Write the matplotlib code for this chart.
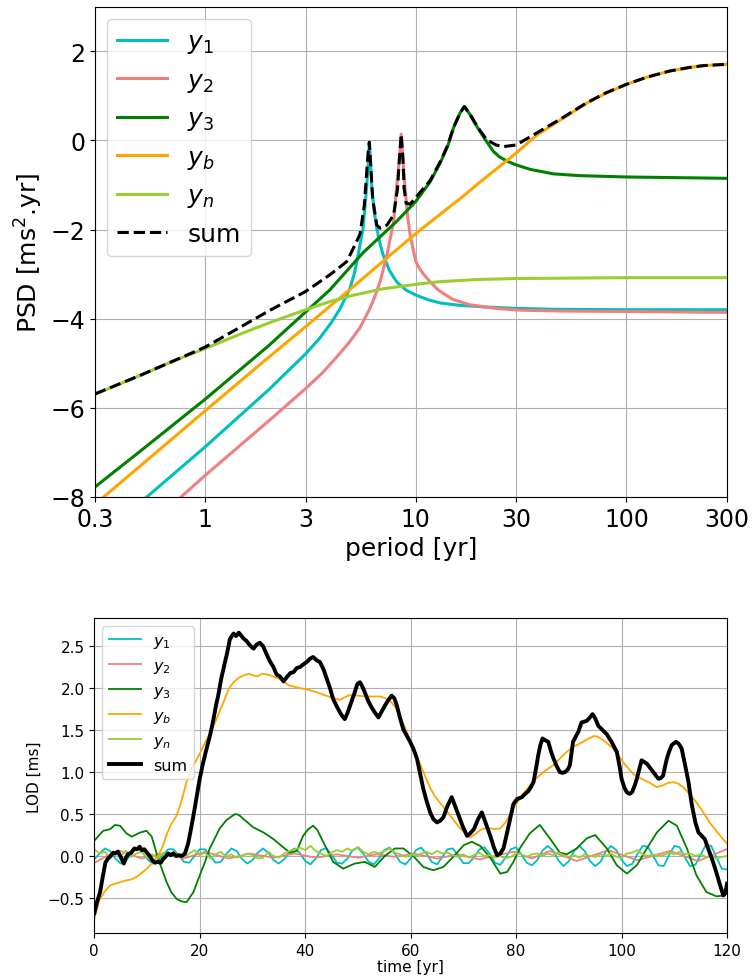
import numpy as np
import matplotlib
matplotlib.use("Agg")
import matplotlib.pyplot as plt
from matplotlib.ticker import NullLocator

# ---------------- top panel: PSD vs period (log10 values) ----------------
period_y1 = [0.3, 0.53, 1, 2, 3, 3.5, 4.0, 4.38, 4.87, 5.1, 5.33, 5.62, 5.84, 5.95, 6.02, 6.1,
             6.19, 6.35, 6.53, 6.75, 7.0, 7.5, 8.1, 9.0, 10, 11.5, 13.1, 16, 21.7, 30, 45, 100, 300]
psd_y1 = [-9.0, -8.0, -6.88, -5.6, -4.79, -4.44, -4.07, -3.77, -3.32, -3.0, -2.57, -1.97, -1.07,
          -0.5, -0.05, -0.5, -1.07, -1.6, -1.97, -2.3, -2.57, -2.92, -3.17, -3.36, -3.47, -3.58,
          -3.65, -3.70, -3.74, -3.77, -3.79, -3.80, -3.80]

period_y2 = [0.3, 0.77, 1, 2, 3, 3.6, 4.2, 4.8, 5.44, 6.06, 6.4, 6.77, 7.3, 7.85, 8.1, 8.35, 8.53,
             8.7, 8.9, 9.15, 9.4, 10, 10.5, 11, 11.7, 12.6, 13.1, 15, 18.1, 24, 31, 50, 100, 300]
psd_y2 = [-9.64, -8.0, -7.52, -6.3, -5.57, -5.22, -4.87, -4.55, -4.2, -3.77, -3.5, -3.17, -2.57,
          -1.82, -1.07, -0.45, 0.14, -0.45, -1.07, -1.7, -2.12, -2.72, -2.9, -3.03, -3.17,
          -3.33, -3.39, -3.57, -3.69, -3.77, -3.81, -3.83, -3.84, -3.86]

period_y3 = [0.3, 0.5, 1, 2, 3, 3.9, 5.62, 8.1, 10, 11.7, 13.1, 14.2, 15.1, 16.2, 17.0, 18.1,
             19.0, 20.2, 21.5, 23.4, 25, 27, 30, 35, 45, 60, 100, 300]
psd_y3 = [-7.78, -6.95, -5.81, -4.61, -3.85, -3.36, -2.52, -1.82, -1.37, -0.93, -0.49, -0.12,
          0.28, 0.61, 0.76, 0.58, 0.40, 0.20, 0.0, -0.25, -0.37, -0.46, -0.55, -0.65, -0.75,
          -0.79, -0.82, -0.85]

period_yb = [0.3, 0.5, 1, 2, 3, 5, 7, 10, 16.8, 20, 27.1, 30, 37.6, 48.6, 65, 80, 100, 125,
             161, 200, 232, 300]
psd_yb = [-8.17, -7.28, -6.07, -4.87, -4.18, -3.3, -2.71, -2.09, -1.25, -0.95, -0.45, -0.28,
          0.12, 0.46, 0.84, 1.06, 1.26, 1.42, 1.56, 1.64, 1.68, 1.71]

period_yn = [0.3, 0.5, 0.7, 1, 1.5, 2, 3, 3.9, 5, 7, 10, 13, 20, 30, 100, 300]
psd_yn = [-5.70, -5.26, -4.96, -4.67, -4.33, -4.10, -3.80, -3.62, -3.48, -3.33, -3.23, -3.17,
          -3.12, -3.10, -3.08, -3.08]

period_sum = [0.3, 0.5, 1, 2, 3, 3.9, 4.7, 5.2, 5.44, 5.7, 5.93, 6.02, 6.1, 6.24, 6.53, 6.77,
              7.3, 7.85, 8.2, 8.35, 8.53, 8.7, 8.8, 9.0, 9.4, 10, 11.7, 13.1, 14.2, 15.1, 16.2,
              17.0, 18.1, 19.0, 20.2, 21.7, 24, 26, 30, 37.6, 48.6, 65, 80, 100, 125, 161, 200,
              232, 300]
psd_sum = [-5.69, -5.26, -4.64, -3.83, -3.39, -3.02, -2.72, -2.3, -2.1, -1.45, -0.32, -0.04,
           -0.5, -1.30, -1.90, -1.97, -1.90, -1.67, -1.07, -0.45, 0.14, -0.45, -1.07, -1.41,
           -1.43, -1.28, -0.90, -0.47, -0.10, 0.29, 0.61, 0.76, 0.59, 0.42, 0.22, 0.02, -0.1,
           -0.14, -0.10, 0.17, 0.48, 0.85, 1.07, 1.26, 1.42, 1.56, 1.64, 1.68, 1.71]

period_ticks = [0.3, 1, 3, 10, 30, 100, 300]
period_ticklabels = ["0.3", "1", "3", "10", "30", "100", "300"]
psd_ticks = [-8, -6, -4, -2, 0, 2]

# ---------------- bottom panel: LOD time series ----------------
time_y1 = list(range(0, 121))
lod_y1 = [-0.04, 0.03, 0.09, 0.06, -0.03, -0.09, -0.06, 0.03, 0.09, 0.06,
          -0.03, -0.09, -0.06, 0.01, 0.08, 0.08, 0.01, -0.07, -0.08, 0.0,
          0.08, 0.08, 0.0, -0.08, -0.07, 0.02, 0.09, 0.06, -0.035, -0.09,
          -0.05, 0.04, 0.09, 0.04, -0.05, -0.09, -0.04, 0.05, 0.09, 0.035,
          -0.06, -0.10, -0.03, 0.07, 0.095, 0.015, -0.08, -0.09, -0.03, 0.07,
          0.10, 0.03, -0.065, -0.10, -0.03, 0.07, 0.10, 0.03, -0.07, -0.10,
          -0.03, 0.07, 0.10, 0.03, -0.07, -0.10, -0.015, 0.08, 0.09, 0.005,
          -0.085, -0.085, -0.02, 0.075, 0.105, 0.025, -0.08, -0.105, -0.02, 0.08,
          0.105, 0.02, -0.08, -0.11, -0.05, 0.065, 0.12, 0.065, -0.05, -0.12,
          -0.06, 0.06, 0.12, 0.06, -0.06, -0.12, -0.07, 0.05, 0.12, 0.07,
          -0.045, -0.12, -0.095, 0.02, 0.12, 0.11, 0.0, -0.11, -0.12, 0.01,
          0.12, 0.105, -0.015, -0.12, -0.105, 0.015, 0.135, 0.12, -0.015, -0.15,
          -0.16]

time_y2 = [0, 4.5, 9, 13, 17, 21, 25.5, 29.5, 34, 38, 42, 46, 50, 53.5, 57, 60.5, 65, 69, 73,
           79.5, 83, 86.4, 91.5, 97.5, 103, 109.2, 114.5, 119.9, 120]
lod_y2 = [-0.08, 0.07, -0.03, 0.03, -0.03, 0.05, -0.03, 0.03, -0.02, 0.03, -0.02, 0.02, -0.02,
          0.02, -0.01, 0.03, -0.03, 0.02, -0.04, 0.05, -0.03, 0.06, -0.06, 0.07, -0.05, 0.06,
          -0.06, 0.08, 0.08]

time_y3 = [0, 0.8, 1.7, 3.0, 3.9, 4.9, 6.1, 7.1, 8.7, 9.9, 10.9, 12.1, 13.7, 14.6, 15.6, 16.5,
           17.5, 18.8, 20.0, 21.0, 21.9, 23.8, 25.1, 26.7, 27.4, 28.3, 30.2, 32.1, 34.0, 35.9,
           37.1, 38.4, 39.6, 40.6, 41.5, 42.3, 43.4, 45.3, 47.2, 49.4, 51.3, 53.2, 55.1, 57.0,
           58.6, 60.5, 62.4, 64.3, 66.2, 68.1, 70.1, 71.6, 73.2, 75.1, 77.0, 78.3, 79.5, 80.7,
           82.6, 84.5, 86.4, 88.3, 89.6, 91.5, 93.4, 95.0, 97.2, 99.1, 101.0, 102.9, 104.8,
           106.7, 108.9, 110.5, 112.4, 114.2, 116.1, 118.0, 119.6, 120]
lod_y3 = [0.18, 0.24, 0.30, 0.32, 0.37, 0.36, 0.27, 0.23, 0.28, 0.30, 0.23, -0.03, -0.31, -0.43,
          -0.51, -0.54, -0.55, -0.43, -0.23, -0.07, 0.09, 0.33, 0.43, 0.50, 0.49, 0.44, 0.34,
          0.28, 0.20, 0.10, 0.04, 0.06, 0.24, 0.32, 0.36, 0.31, 0.17, -0.07, -0.15, -0.09,
          -0.07, -0.13, 0.0, 0.09, 0.09, 0.0, -0.13, -0.17, -0.13, -0.01, 0.13, 0.17, 0.12,
          -0.02, -0.21, -0.19, -0.07, 0.09, 0.27, 0.37, 0.21, 0.04, 0.02, 0.09, 0.21, 0.25,
          0.09, -0.11, -0.21, -0.11, 0.09, 0.28, 0.42, 0.36, 0.09, -0.23, -0.43, -0.48, -0.47,
          -0.42]

time_yb = [0, 1, 2, 3, 4, 5, 6, 7, 8, 9, 10, 11, 12, 13, 13.7, 14.5, 15.6, 16.5, 17.5, 18.1,
           19, 20, 21, 22.3, 23.5, 24.5, 25.5, 26.4, 27.3, 28.3, 29.3, 30.2, 31.0, 31.8, 33.0,
           33.9, 35.0, 36.0, 37.0, 38.4, 39.0, 40.6, 42.2, 43.5, 45.3, 46.6, 47.5, 48.5, 50.0,
           51.6, 53, 54.2, 55.2, 56.1, 57.0, 58.0, 59.0, 59.9, 60.9, 61.9, 62.9, 63.8, 64.6,
           65.5, 66.5, 67.5, 68.5, 69.4, 70.4, 71.3, 72.2, 73.2, 74.2, 75.1, 76.0, 77.0, 78.0,
           78.9, 79.8, 80.7, 81.6, 82.6, 83.9, 85.2, 86.1, 87.0, 88.0, 88.9, 89.8, 90.8, 91.8,
           92.7, 93.8, 94.9, 95.5, 96.5, 97.5, 98.4, 99.4, 100.3, 101.2, 102.2, 103.1, 104.1,
           105.4, 106.7, 107.8, 108.8, 109.8, 110.8, 111.7, 113.0, 114.2, 115.5, 116.7, 117.7,
           118.6, 119.4, 120]
lod_yb = [-0.75, -0.52, -0.42, -0.35, -0.33, -0.31, -0.29, -0.28, -0.25, -0.20, -0.15, -0.08,
          -0.01, 0.12, 0.25, 0.37, 0.48, 0.65, 0.88, 1.0, 1.10, 1.22, 1.35, 1.50, 1.68, 1.83,
          1.99, 2.07, 2.12, 2.15, 2.17, 2.15, 2.14, 2.17, 2.16, 2.14, 2.11, 2.07, 2.03, 2.01,
          2.00, 1.98, 1.95, 1.92, 1.88, 1.86, 1.89, 1.92, 1.91, 1.90, 1.90, 1.90, 1.88, 1.85,
          1.78, 1.67, 1.52, 1.36, 1.22, 1.08, 0.93, 0.80, 0.71, 0.64, 0.56, 0.48, 0.40, 0.33,
          0.27, 0.22, 0.26, 0.31, 0.33, 0.33, 0.32, 0.33, 0.40, 0.50, 0.60, 0.68, 0.76, 0.84,
          0.93, 1.0, 1.04, 1.08, 1.14, 1.20, 1.25, 1.30, 1.33, 1.36, 1.40, 1.43, 1.42, 1.38,
          1.33, 1.28, 1.20, 1.12, 1.05, 0.98, 0.94, 0.91, 0.87, 0.82, 0.84, 0.87, 0.88, 0.86,
          0.82, 0.73, 0.64, 0.52, 0.40, 0.32, 0.25, 0.19, 0.15]

time_yn = list(range(0, 121))
lod_yn = [0.08, 0.03, 0.05, -0.02, 0.04, 0.0, 0.06, -0.01, 0.03, 0.05,
          -0.02, 0.02, -0.03, 0.04, 0.0, 0.05, 0.01, -0.02, 0.03, 0.07,
          0.01, 0.04, -0.03, 0.02, 0.05, -0.01, 0.02, -0.02, 0.0, 0.03,
          0.01, -0.03, -0.02, 0.05, 0.0, -0.02, 0.03, 0.06, 0.08, 0.10,
          0.07, 0.12, 0.06, 0.03, 0.0, 0.04, 0.07, 0.05, 0.09, 0.06,
          0.11, 0.05, 0.02, 0.05, 0.03, 0.06, 0.09, 0.04, 0.02, -0.01,
          0.02, 0.0, 0.03, 0.05, 0.02, 0.06, 0.03, 0.04, 0.01, -0.01,
          0.02, -0.02, 0.01, 0.04, 0.0, 0.01, -0.02, 0.0, -0.03, -0.01,
          0.03, 0.02, -0.01, 0.02, 0.03, 0.0, 0.03, 0.01, 0.04, 0.01,
          -0.01, 0.01, -0.02, 0.02, 0.0, -0.01, 0.02, 0.0, 0.03, -0.01,
          -0.02, 0.03, 0.04, 0.07, 0.02, 0.0, 0.02, 0.0, 0.01, 0.04,
          0.02, 0.05, 0.02, 0.03, 0.0, 0.02, -0.01, 0.0, -0.03, -0.01,
          0.0]

time_sum = [0, 0.5, 1.1, 1.6, 2.1, 2.6, 3.1, 3.6, 4.0, 4.5, 5.0, 5.6, 6.0, 6.4, 7.0, 7.6, 8.1,
            8.6, 9.0, 9.5, 10.0, 10.5, 11.0, 11.5, 12.0, 12.6, 13.0, 13.5, 14.0, 14.5, 15.0,
            15.5, 16.0, 16.6, 17.2, 17.8, 18.3, 18.8, 19.4, 20.0, 20.6, 21.3, 22.0, 22.6, 23.1,
            23.5, 24.1, 24.8, 25.3, 25.7, 26.1, 26.4, 26.9, 27.4, 27.8, 28.3, 28.9, 29.5, 30.2,
            30.8, 31.4, 32.0, 32.7, 33.3, 33.9, 34.6, 35.2, 35.9, 36.5, 37.2, 37.8, 38.4, 39.0,
            39.6, 40.3, 40.9, 41.5, 42.2, 42.8, 43.5, 44.1, 44.7, 45.3, 46.0, 46.6, 47.0, 47.5,
            48.0, 48.5, 49.0, 49.4, 49.9, 50.4, 50.9, 51.3, 52.0, 52.6, 53.2, 53.9, 54.5, 55.1,
            55.8, 56.4, 56.9, 57.4, 58.0, 58.6, 59.2, 59.9, 60.5, 61.2, 61.8, 62.4, 63.0, 63.7,
            64.3, 65.0, 65.6, 66.2, 67.0, 67.8, 68.4, 69.1, 69.9, 70.7, 71.3, 72.0, 72.8, 73.5,
            74.3, 75.1, 75.8, 76.4, 77.0, 77.6, 78.3, 78.9, 79.5, 80.2, 81.1, 81.7, 82.3, 82.8,
            83.3, 83.8, 84.2, 84.6, 85.0, 85.5, 86.1, 86.6, 87.1, 87.7, 88.3, 88.8, 89.3, 89.8,
            90.2, 90.8, 91.3, 91.8, 92.4, 92.9, 93.4, 94.0, 94.5, 95.0, 95.6, 96.4, 97.2, 98.1,
            99.1, 99.6, 100.0, 100.5, 101.0, 101.5, 102.0, 102.5, 102.9, 103.4, 103.8, 104.3,
            104.8, 105.4, 106.0, 106.5, 107.0, 107.5, 107.9, 108.3, 108.6, 109.0, 109.5, 110.3,
            110.8, 111.4, 112.0, 112.7, 113.3, 114.0, 114.6, 115.2, 115.8, 116.6, 117.4, 118.0,
            118.7, 119.3, 119.7, 120.0]
lod_sum = [-0.68, -0.55, -0.43, -0.25, -0.08, -0.03, 0.0, 0.04, 0.03, 0.05, -0.01, -0.09, -0.02,
           0.02, 0.04, 0.09, 0.08, 0.11, 0.07, 0.08, 0.04, 0.0, -0.05, -0.08, -0.07, -0.08,
           -0.04, -0.01, 0.03, 0.01, 0.03, 0.0, 0.01, 0.0, 0.03, 0.15, 0.31, 0.48, 0.70, 0.92,
           1.10, 1.28, 1.45, 1.63, 1.80, 1.91, 2.12, 2.31, 2.45, 2.58, 2.62, 2.65, 2.62, 2.66,
           2.63, 2.59, 2.56, 2.51, 2.47, 2.52, 2.54, 2.50, 2.40, 2.32, 2.26, 2.16, 2.14, 2.08,
           2.13, 2.18, 2.19, 2.24, 2.25, 2.28, 2.31, 2.35, 2.37, 2.33, 2.31, 2.22, 2.11, 2.00,
           1.87, 1.78, 1.71, 1.67, 1.63, 1.70, 1.79, 1.88, 1.95, 2.05, 2.07, 2.01, 1.95, 1.84,
           1.77, 1.71, 1.65, 1.72, 1.79, 1.86, 1.91, 1.88, 1.79, 1.64, 1.51, 1.44, 1.36, 1.28,
           1.16, 0.98, 0.80, 0.66, 0.52, 0.44, 0.40, 0.42, 0.46, 0.60, 0.70, 0.60, 0.48, 0.35,
           0.24, 0.27, 0.32, 0.44, 0.52, 0.38, 0.24, 0.10, 0.01, 0.03, 0.09, 0.28, 0.45, 0.62,
           0.68, 0.70, 0.74, 0.77, 0.82, 0.88, 1.05, 1.20, 1.32, 1.40, 1.38, 1.36, 1.25, 1.16,
           1.07, 1.00, 0.99, 1.00, 1.03, 1.08, 1.36, 1.42, 1.48, 1.59, 1.60, 1.61, 1.65, 1.69,
           1.64, 1.55, 1.50, 1.45, 1.36, 1.24, 1.08, 0.92, 0.82, 0.76, 0.74, 0.76, 0.84, 0.92,
           1.04, 1.14, 1.12, 1.10, 1.05, 1.00, 0.96, 0.92, 0.93, 0.96, 1.08, 1.16, 1.24, 1.32,
           1.36, 1.34, 1.28, 1.10, 0.88, 0.62, 0.40, 0.28, 0.24, 0.20, 0.06, -0.08, -0.20,
           -0.35, -0.47, -0.44, -0.33]

time_ticks = [0, 20, 40, 60, 80, 100, 120]

labels = ["$y_1$", "$y_2$", "$y_3$", "$y_b$", "$y_n$", "sum"]
colors = ["c", "lightcoral", "green", "orange", "yellowgreen"]

fig = plt.figure(figsize=(7.55, 9.78), dpi=100)

# ---- top ----
ax1 = fig.add_axes([0.1258, 0.491, 0.837, 0.501])
top_x = [period_y1, period_y2, period_y3, period_yb, period_yn]
top_y = [psd_y1, psd_y2, psd_y3, psd_yb, psd_yn]
for xs, ys, c, lab in zip(top_x, top_y, colors, labels):
    ax1.plot(xs, ys, color=c, lw=2.2, label=lab)
ax1.plot(period_sum, psd_sum, color="k", ls="--", lw=2.2, label=labels[5])
ax1.set_xscale("log")
ax1.set_xlim(0.3, 300)
ax1.set_ylim(-8, 3)
ax1.set_xticks(period_ticks, period_ticklabels)
ax1.xaxis.set_minor_locator(NullLocator())
ax1.set_yticks(psd_ticks)
ax1.tick_params(labelsize=17)
ax1.grid(True)
ax1.set_xlabel("period [yr]", fontsize=18)
ax1.set_ylabel("PSD [ms$^2$.yr]", fontsize=18)
ax1.legend(loc="upper left", fontsize=18)

# ---- bottom ----
ax2 = fig.add_axes([0.1249, 0.0447, 0.838, 0.322])
bot_x = [time_y1, time_y2, time_y3, time_yb, time_yn]
bot_y = [lod_y1, lod_y2, lod_y3, lod_yb, lod_yn]
for xs, ys, c, lab in zip(bot_x, bot_y, colors, labels):
    ax2.plot(xs, ys, color=c, lw=1.3, label=lab)
ax2.plot(time_sum, lod_sum, color="k", lw=2.8, label=labels[5])
ax2.set_xlim(0, 120)
ax2.set_xticks(time_ticks)
ax2.tick_params(labelsize=11)
ax2.grid(True)
ax2.set_xlabel("time [yr]", fontsize=11, labelpad=1)
ax2.set_ylabel("LOD [ms]", fontsize=11)
ax2.legend(loc="upper left", fontsize=11.5)

fig.savefig("out.png", dpi=100)
